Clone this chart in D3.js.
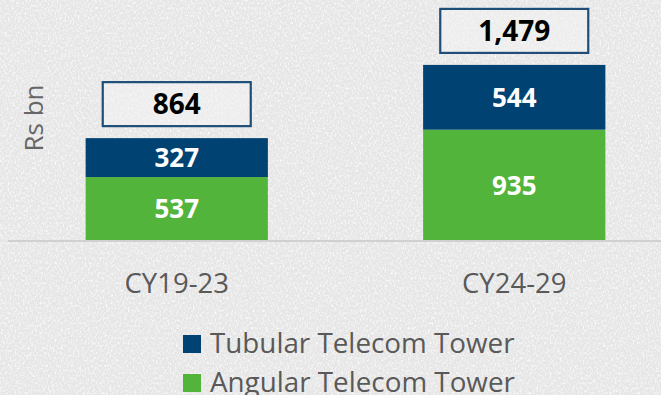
<!DOCTYPE html>
<html>
<head>
<meta charset="utf-8">
<script src="https://cdn.jsdelivr.net/npm/d3@7"></script>
<style>
  html, body { margin: 0; padding: 0; background: #ededed; }
  svg { display: block; }
</style>
</head>
<body>
<svg id="chart" width="661" height="395"></svg>
<script>
// Data
const categories = ["CY19-23", "CY24-29"];
const seriesNames = ["Angular Telecom Tower", "Tubular Telecom Tower"];
const angular = [537, 935];
const tubular = [327, 544];
const totals = [864, 1479];
const legendOrder = ["Tubular Telecom Tower", "Angular Telecom Tower"];

const colors = {
  "Tubular Telecom Tower": "#004272",
  "Angular Telecom Tower": "#52b43a"
};

const W = 661, H = 395;
const svg = d3.select("#chart");
const font = "'Open Sans', 'DejaVu Sans', sans-serif";

// Textured paper background
const defs = svg.append("defs");
const f = defs.append("filter").attr("id", "grain")
  .attr("x", 0).attr("y", 0).attr("width", "100%").attr("height", "100%");
f.append("feTurbulence").attr("type", "fractalNoise")
  .attr("baseFrequency", "0.6 0.4").attr("numOctaves", 3).attr("seed", 7).attr("result", "n");
f.append("feColorMatrix").attr("in", "n").attr("type", "matrix")
  .attr("values", "0 0 0 0 1  0 0 0 0 1  0 0 0 0 1  2.2 0 0 0 -1.0");
svg.append("rect").attr("width", W).attr("height", H).attr("fill", "#e6e6e6");
svg.append("rect").attr("width", W).attr("height", H).attr("fill", "#fff").attr("filter", "url(#grain)");

// Scales
const x = d3.scaleBand().domain(categories).range([8, 683])
  .paddingInner(0.46).paddingOuter(0.23);
const y = d3.scaleLinear().domain([0, 1600]).range([241, 50.5]);

const rows = categories.map((c, i) => ({
  cat: c,
  "Angular Telecom Tower": angular[i],
  "Tubular Telecom Tower": tubular[i],
  total: totals[i]
}));
const stacked = d3.stack().keys(seriesNames)(rows);

// Bars with segment values
const g = svg.append("g");
stacked.forEach(layer => {
  g.selectAll(null).data(layer).enter().append("rect")
    .attr("x", d => x(d.data.cat))
    .attr("width", x.bandwidth())
    .attr("y", d => y(d[1]))
    .attr("height", d => y(d[0]) - y(d[1]))
    .attr("fill", colors[layer.key]);
  g.selectAll(null).data(layer).enter().append("text")
    .attr("x", d => x(d.data.cat) + x.bandwidth() / 2)
    .attr("y", d => (y(d[0]) + y(d[1])) / 2)
    .attr("dy", "0.36em")
    .attr("text-anchor", "middle")
    .attr("font-family", font).attr("font-weight", 700).attr("font-size", 26)
    .attr("fill", "#ffffff")
    .text(d => d3.format(",")(d[1] - d[0]));
});

// Baseline
svg.append("line").attr("x1", 8).attr("x2", W).attr("y1", y(0)).attr("y2", y(0))
  .attr("stroke", "#d0d0d0").attr("stroke-width", 2);

// Total boxes
const boxW = 148, boxH = 44, gap = 12;
rows.forEach(r => {
  const cx = x(r.cat) + x.bandwidth() / 2;
  const top = y(r.total) - gap - boxH;
  svg.append("rect")
    .attr("x", cx - boxW / 2).attr("y", top)
    .attr("width", boxW).attr("height", boxH)
    .attr("fill", "#f4f4f4").attr("fill-opacity", 0.5)
    .attr("stroke", "#1f4e79").attr("stroke-width", 2.2);
  svg.append("text")
    .attr("x", cx).attr("y", top + boxH / 2).attr("dy", "0.36em")
    .attr("text-anchor", "middle")
    .attr("font-family", font).attr("font-weight", 700).attr("font-size", 28)
    .attr("fill", "#000")
    .text(d3.format(",")(r.total));
});

// Category axis labels
const xAxis = d3.axisBottom(x).tickSize(0).tickPadding(0);
const ax = svg.append("g").attr("transform", "translate(0,293)").call(xAxis);
ax.select(".domain").remove();
ax.selectAll("text")
  .attr("dy", 0).attr("y", 0)
  .attr("font-family", font).attr("font-size", 27.5).attr("fill", "#595959");

// Y axis title
svg.append("text")
  .attr("transform", "translate(43,118) rotate(-90)")
  .attr("text-anchor", "middle")
  .attr("font-family", font).attr("font-size", 26).attr("fill", "#666")
  .text("Rs bn");

// Legend
const lg = svg.append("g");
legendOrder.forEach((name, i) => {
  const yy = 335 + i * 39;
  lg.append("rect").attr("x", 183).attr("y", yy).attr("width", 18).attr("height", 18)
    .attr("fill", colors[name]);
  lg.append("text").attr("x", 210).attr("y", yy + 18)
    .attr("font-family", font).attr("font-size", 27.8).attr("fill", "#595959")
    .text(name);
});
</script>
</body>
</html>
